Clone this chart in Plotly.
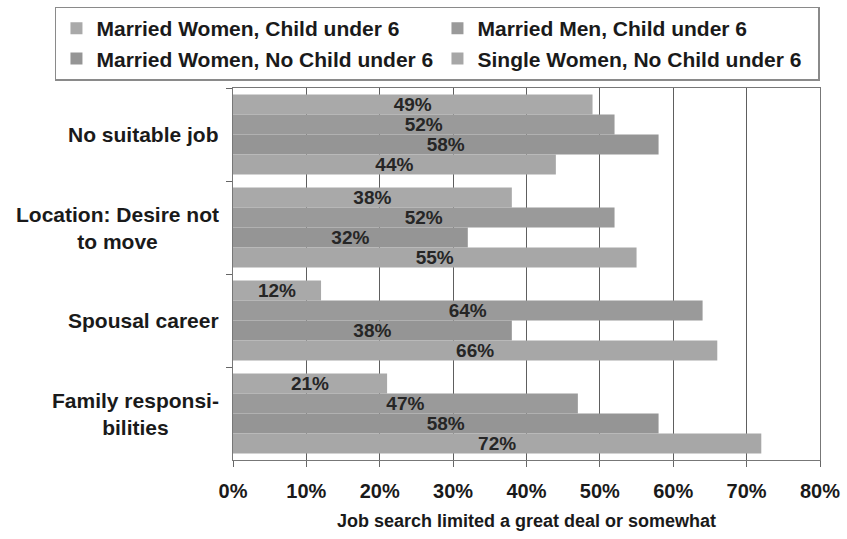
import plotly.graph_objects as go

# Reasons that limited the job search (top to bottom)
categories = [
    "No suitable job",
    "Location: Desire not<br>to move",
    "Spousal career",
    "Family responsi-<br>bilities",
]

# Share of respondents (%) per group
series_names = [
    "Married Women, Child under 6",
    "Married Men, Child under 6",
    "Married Women, No Child under 6",
    "Single Women, No Child under 6",
]
married_women_child = [49, 38, 12, 21]
married_men_child = [52, 52, 64, 47]
married_women_no_child = [58, 32, 38, 58]
single_women_no_child = [44, 55, 66, 72]

x_ticks = [0, 10, 20, 30, 40, 50, 60, 70, 80]
x_tick_labels = ["0%", "10%", "20%", "30%", "40%", "50%", "60%", "70%", "80%"]

series_values = [married_women_child, married_men_child,
                 married_women_no_child, single_women_no_child]
bar_colors = ["#a9a9a9", "#9a9a9a", "#959595", "#a7a7a7"]

FONT = "Liberation Sans, Arial, Helvetica, sans-serif"

fig = go.Figure()
for name, vals, col in zip(series_names, series_values, bar_colors):
    fig.add_trace(go.Bar(
        y=categories,
        x=vals,
        name=name,
        orientation="h",
        marker=dict(color=col, line=dict(width=0)),
        text=[f"{v}%" for v in vals],
        textposition="inside",
        insidetextanchor="middle",
        constraintext="none",
        textangle=0,
        textfont=dict(family=FONT, size=19, color="#262626", weight="bold"),
        hoverinfo="skip",
    ))

# Category labels, centred line by line, to the left of the axis
for cat in categories:
    fig.add_annotation(
        x=-0.02, xref="paper", xanchor="right",
        y=cat, yref="y", yanchor="middle",
        text=cat, showarrow=False, align="center",
        font=dict(family=FONT, size=21, color="#1a1a1a", weight="bold"),
    )

fig.update_layout(
    width=847, height=539,
    margin=dict(l=233, r=27, t=88, b=79, autoexpand=False),
    paper_bgcolor="white", plot_bgcolor="white",
    barmode="group", bargap=0.14, bargroupgap=0,
    font=dict(family=FONT, color="#1a1a1a"),
    showlegend=True,
    legend=dict(
        orientation="h",
        x=-0.3033, xanchor="left",
        y=1.219, yanchor="top",
        traceorder="normal",
        entrywidth=336, entrywidthmode="pixels",
        bgcolor="white", bordercolor="#8a8a8a", borderwidth=1.5,
        font=dict(family=FONT, size=21, color="#1a1a1a", weight="bold"),
        itemwidth=30,
    ),
    xaxis=dict(
        range=[0, 80],
        tickvals=x_ticks, ticktext=x_tick_labels,
        ticks="outside", ticklen=6, tickcolor="#666", tickwidth=1.2,
        ticklabelstandoff=7,
        showline=True, linecolor="#777", linewidth=1.2, mirror=True,
        showgrid=True, gridcolor="#5e5e5e", gridwidth=1.3,
        zeroline=False,
        tickfont=dict(family=FONT, size=20, color="#1a1a1a", weight="bold"),
        title=dict(text="Job search limited a great deal or somewhat",
                   font=dict(family=FONT, size=18, color="#1a1a1a", weight="bold"),
                   standoff=13),
    ),
    yaxis=dict(
        type="category",
        categoryorder="array", categoryarray=categories,
        autorange="reversed",
        showticklabels=False,
        ticks="outside", ticklen=6, tickcolor="#666", tickwidth=1.2,
        tickson="boundaries",
        showline=True, linecolor="#777", linewidth=1.2, mirror=True,
        showgrid=False, zeroline=False,
    ),
)

fig.write_html("out.html")
